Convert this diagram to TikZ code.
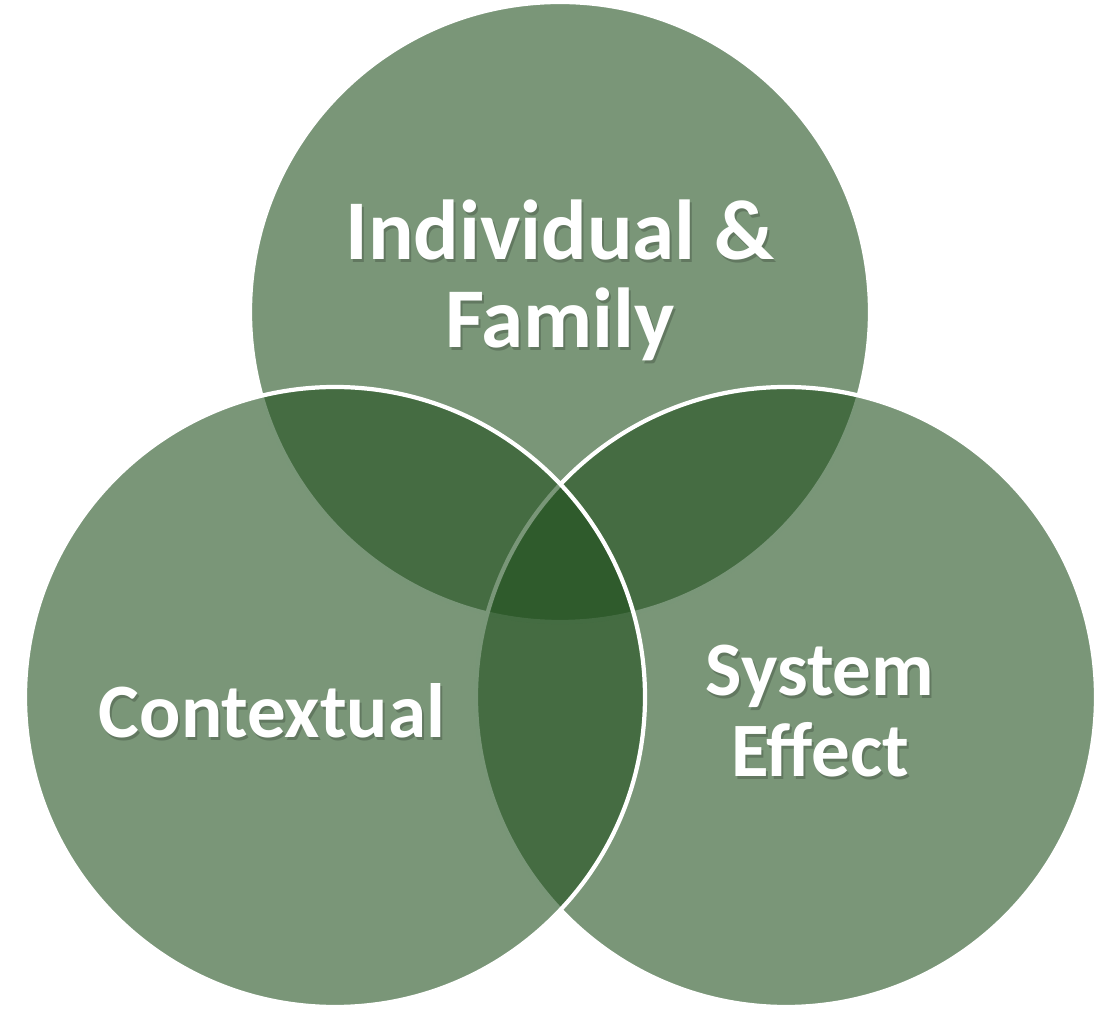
\documentclass[tikz,border=0pt]{standalone}
\usepackage{fontspec}
\setmainfont{Carlito}
\usepackage{tikz}
\usetikzlibrary{positioning}
\definecolor{venngreen}{RGB}{33,80,30}

\begin{document}
\begin{tikzpicture}[
        set/.style={circle, draw=white, line width=1.2pt, fill=venngreen, fill opacity=0.6,
          minimum size=6.2cm, inner sep=0pt, outer sep=0pt},
        biglabel/.style={text=white, font=\bfseries\fontsize{24.2}{25}\selectfont, align=center},
        sidelabel/.style={text=white, font=\bfseries\fontsize{21.9}{23.3}\selectfont, align=center},
        shade/.style={text=black, text opacity=0.2}
      ]
      \useasboundingbox (0,0) rectangle (11.02,-10.11);

      % the three sets, top one first so the others lie over it
      \node[set] (family) at (5.60,-3.12) {};
      \node[set] (system) at (7.86,-6.97) {};
      \node[set] (context) at (3.35,-6.97) {};

      % labels, each with a soft shadow under it
      \node[biglabel, shade] (familyShadow) at ([xshift=0.02cm, yshift=0.29cm]family.center) {Individual \&\\Family};
      \node[biglabel] (familyText) at ([yshift=0.32cm]family.center) {Individual \&\\Family};

      \node[sidelabel, shade] (contextShadow) at ([xshift=-0.61cm, yshift=-0.17cm]context.center) {Contextual};
      \node[sidelabel] (contextText) at ([xshift=-0.63cm, yshift=-0.14cm]context.center) {Contextual};

      \node[sidelabel, shade] (systemShadow) at ([xshift=0.36cm, yshift=-0.17cm]system.center) {System\\Effect};
      \node[sidelabel] (systemText) at ([xshift=0.34cm, yshift=-0.14cm]system.center) {System\\Effect};

    \end{tikzpicture}
\end{document}
